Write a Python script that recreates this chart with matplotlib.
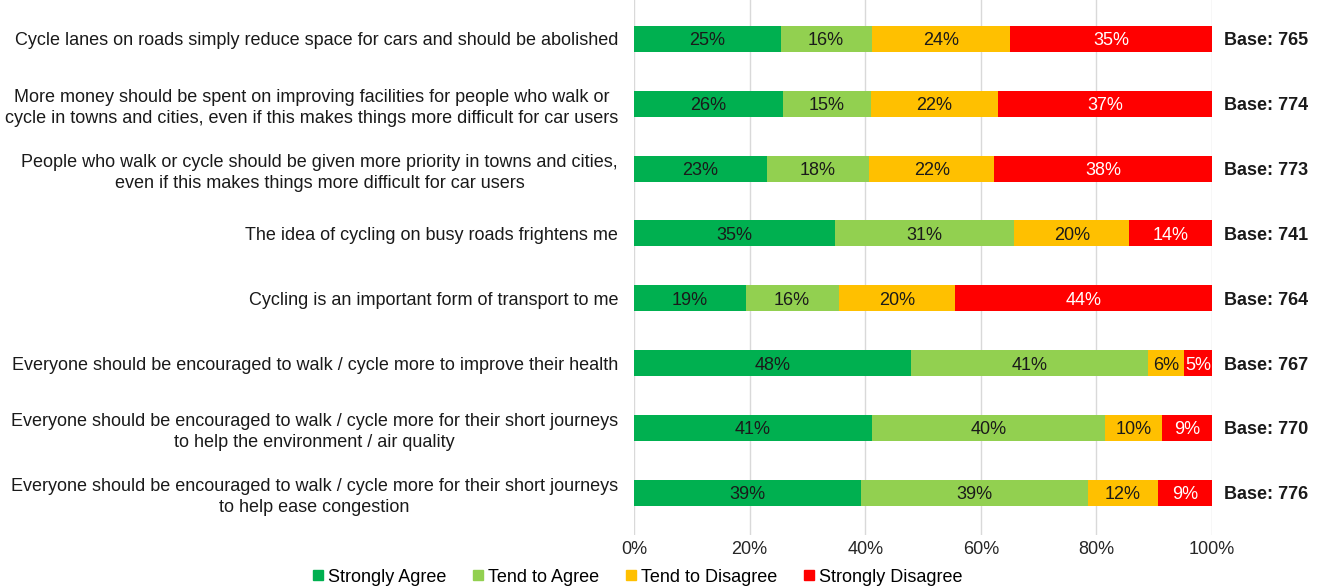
import matplotlib
matplotlib.use("Agg")
import matplotlib.pyplot as plt
import numpy as np

categories = [
    "Cycle lanes on roads simply reduce space for cars and should be abolished",
    "More money should be spent on improving facilities for people who walk or\ncycle in towns and cities, even if this makes things more difficult for car users",
    "People who walk or cycle should be given more priority in towns and cities,\neven if this makes things more difficult for car users",
    "The idea of cycling on busy roads frightens me",
    "Cycling is an important form of transport to me",
    "Everyone should be encouraged to walk / cycle more to improve their health",
    "Everyone should be encouraged to walk / cycle more for their short journeys\nto help the environment / air quality",
    "Everyone should be encouraged to walk / cycle more for their short journeys\nto help ease congestion",
]
strongly_agree = [25.4, 25.7, 23.0, 34.7, 19.3, 47.9, 41.2, 39.2]
tend_agree = [15.7, 15.25, 17.7, 31.1, 16.1, 41.1, 40.3, 39.4]
tend_disagree = [23.9, 22.1, 21.6, 19.9, 20.2, 6.1, 9.9, 12.0]
strongly_disagree = [35.0, 36.95, 37.7, 14.3, 44.4, 4.9, 8.6, 9.4]
bases = [765, 774, 773, 741, 764, 767, 770, 776]
series_names = ["Strongly Agree", "Tend to Agree", "Tend to Disagree", "Strongly Disagree"]
colors = ["#00B050", "#92D050", "#FFC000", "#FF0000"]
text_colors = ["#1a1a1a", "#1a1a1a", "#1a1a1a", "white"]
xticks = [0, 20, 40, 60, 80, 100]

plt.rcParams['font.family'] = ['Liberation Sans', 'DejaVu Sans']
FS = 13

fig = plt.figure(figsize=(13.27, 5.88), dpi=100)
ax = fig.add_axes([634/1327, 1-535/588, 578/1327, 535/588])

series = [strongly_agree, tend_agree, tend_disagree, strongly_disagree]
y = np.arange(len(categories))
left = np.zeros(len(categories))
for vals, name, col, tc in zip(series, series_names, colors, text_colors):
    vals = np.array(vals)
    ax.barh(y, vals, left=left, height=0.4, color=col, label=name, zorder=3)
    for yi, l, v in zip(y, left, vals):
        ax.text(l + v/2, yi, f"{round(v):.0f}%", ha='center', va='center_baseline',
                fontsize=FS, color=tc, zorder=4)
    left += vals

for yi, b in zip(y, bases):
    ax.text(109.4, yi, f"Base: {b}", ha='center', va='center_baseline', fontsize=FS,
            fontweight='bold', color='#1a1a1a', clip_on=False)

ax.set_xlim(0, 100)
ax.set_ylim(7.65, -0.6)
ax.set_xticks(xticks)
ax.set_xticklabels([f"{t}%" for t in xticks], fontsize=FS, color='#262626')
ax.set_yticks(y)
ax.set_yticklabels(categories, fontsize=FS, color='#1a1a1a', multialignment='center',
                   linespacing=1.3)
ax.tick_params(axis='both', length=0)
ax.tick_params(axis='y', pad=11.5)
ax.tick_params(axis='x', pad=4)
ax.grid(axis='x', color='#D9D9D9', linewidth=1, zorder=0)
for s in ax.spines.values():
    s.set_visible(False)

handles = [plt.Line2D([0], [0], marker='s', linestyle='none', markersize=6.5,
                      markerfacecolor=c, markeredgecolor=c) for c in colors]
fig.legend(handles, series_names, loc='center', bbox_to_anchor=(638/1327, 1-577/588),
           ncol=4, frameon=False, fontsize=FS, handletextpad=0.3, columnspacing=1.5,
           handlelength=0.5, borderpad=0.1)

fig.savefig("out.png", dpi=100, facecolor='white')
